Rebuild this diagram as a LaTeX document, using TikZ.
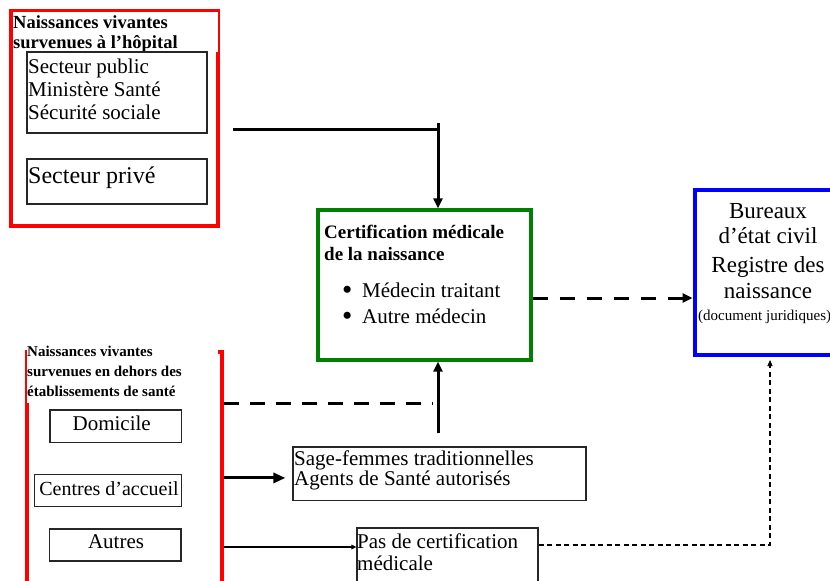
\documentclass[tikz,border=0pt]{standalone}
\usepackage{fontspec}
\setmainfont{Liberation Serif}
\usetikzlibrary{arrows.meta,fit}
\definecolor{certgreen}{RGB}{0,128,0}
\tikzset{
  chart/.style={x=1pt, y=-1pt},
  redframe/.style={draw=red, line width=3.6pt, inner sep=0pt},
  cover/.style={fill=white, inner sep=0pt},
  ibox/.style={draw=black!85, line width=1.2pt, inner sep=0pt},
  certbox/.style={draw=certgreen, line width=3.2pt, inner sep=0pt},
  regbox/.style={draw=blue, line width=4pt, inner sep=0pt},
  ttl/.style={font=\bfseries\fontsize{18.5}{20}\selectfont, inner sep=0pt, anchor=base west},
  txt/.style={font=\fontsize{21}{24}\selectfont, inner sep=0pt, anchor=base west},
  fline/.style={line width=3pt},
  tline/.style={line width=1.1pt},
  bigtip/.style={-{Triangle[length=10pt,width=9pt]}},
}

\begin{document}
\begin{tikzpicture}[chart]
  \useasboundingbox (0,0) rectangle (830,581);
  \clip (0,0) rectangle (830,581);
  % births in hospital, top left
  \node[redframe, fit={(10.8,10.7) (218,226)}] (hosp) {};
  \node[cover, fit={(12.7,11.6) (218.3,52)}] (hospT) {};
  \foreach \lbl [count=\i] in {Naissances vivantes, survenues à l’hôpital}
    \node[ttl] (hospL\i) at (13,8+20*\i) {\lbl};
  \node[ibox, fit={(27,52) (207,133)}] (pub) {};
  \foreach \lbl [count=\i] in {Secteur public, Ministère Santé, Sécurité sociale}
    \node[txt] (pubL\i) at (28,50+23*\i) {\lbl};
  \node[ibox, fit={(27,159) (207,204)}] (priv) {};
  \node[txt, font=\fontsize{24}{26}\selectfont] (privL) at (28,183) {Secteur privé};
  % births outside health facilities, bottom left
  \node[redframe, fit={(26.7,352) (222,600)}] (outside) {};
  \node[cover, fit={(26.7,346) (218.3,403)}] (outT) {};
  \foreach \lbl [count=\i] in {Naissances vivantes, survenues en dehors des, établissements de santé}
    \node[ttl, font=\bfseries\fontsize{15}{17}\selectfont] (outL\i) at (27,336+20*\i) {\lbl};
  \node[ibox, fit={(50,410) (181.7,442.7)}] (domicile) {};
  \node[txt, anchor=base] (domL) at (111.7,430) {Domicile};
  \node[ibox, fit={(34.3,474.3) (181.7,506.7)}] (centres) {};
  \node[txt, anchor=base, font=\fontsize{20}{22}\selectfont] (centL) at (109,495) {Centres d’accueil};
  \node[ibox, fit={(49.3,529) (181,561)}] (autres) {};
  \node[txt, anchor=base] (autL) at (116,548.3) {Autres};
  % medical certification, centre
  \node[certbox, fit={(318,210) (531,360)}] (cert) {};
  \foreach \lbl [count=\i] in {Certification médicale, de la naissance}
    \node[ttl, font=\bfseries\fontsize{19}{21}\selectfont] (certL\i) at (324,216+22*\i) {\lbl};
  \foreach \lbl [count=\i] in {Médecin traitant, Autre médecin}
    \node[txt] (certB\i) at (342,271+26*\i)
      {\makebox[20pt][l]{\smash{\raisebox{-2.2pt}{\scalebox{1.4}{\textbullet}}}}\lbl};
  % civil registration, right
  \node[regbox, fit={(694.5,190) (850,355)}] (reg) {};
  \foreach \lbl/\y in {Bureaux/218, d’état civil/243, Registre des/272, naissance/298}
    \node[txt, anchor=base, font=\fontsize{23}{25}\selectfont] (regL\y) at (768,\y) {\lbl};
  \node[txt, font=\fontsize{15}{17}\selectfont] (regN) at (698,320) {(document juridiques)};
  % other attendants and no certification
  \node[ibox, fit={(293,447) (586,500.5)}] (sage) {};
  \foreach \lbl [count=\i] in {Sage-femmes traditionnelles, Agents de Santé autorisés}
    \node[txt] (sageL\i) at (294,445+20*\i) {\lbl};
  \node[ibox, fit={(357,528) (538,600)}] (nocert) {};
  \foreach \lbl [count=\i] in {Pas de certification, médicale}
    \node[txt] (nocertL\i) at (357,526+22*\i) {\lbl};
  % connectors
  \coordinate (j1) at (438,129);
  \coordinate (j2) at (438,403);
  \coordinate (j3) at (438,433);
  \coordinate (j4) at (770,545);
  \coordinate (c1) at ([yshift=-13pt]cert.east);
  \coordinate (s1) at ([yshift=-4.2pt]sage.west);
  \coordinate (n1) at ([yshift=17pt]nocert.west);
  \coordinate (n2) at ([yshift=19pt]nocert.east);
  \draw[fline, shorten <=13pt] (hosp.east |- j1) -- (j1);
  \draw[fline, bigtip] ([yshift=6pt]j1) -- (j1 |- cert.north);
  \draw[fline, bigtip] (j3) -- (j3 |- cert.south);
  \draw[fline, dash pattern=on 15pt off 11pt, shorten >=5pt] (outside.east |- j2) -- (j2);
  \draw[fline, dash pattern=on 15pt off 12pt, bigtip] (c1) -- (c1 -| reg.west);
  \draw[fline, -{Triangle[length=12pt,width=10pt]}, shorten >=7pt] (outside.east |- s1) -- (s1);
  \draw[tline, -{Triangle[length=5pt,width=4.5pt]}] (outside.east |- n1) -- (n1);
  \draw[tline, dash pattern=on 5pt off 3.5pt, -{Triangle[length=6pt,width=5pt]}, shorten >=3pt]
    (n2) -- (j4) -- (j4 |- reg.south);
\end{tikzpicture}
\end{document}
